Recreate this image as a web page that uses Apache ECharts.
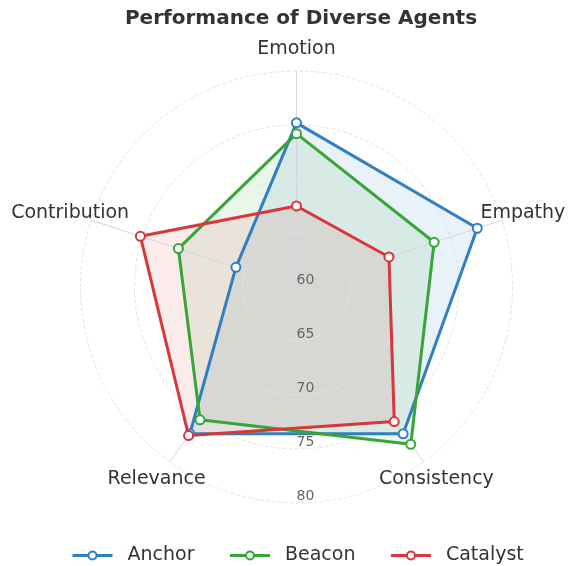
<!DOCTYPE html>
<html>
<head>
<meta charset="utf-8">
<script src="https://cdn.jsdelivr.net/npm/echarts@6/dist/echarts.min.js"></script>
<style>
  html, body { margin: 0; padding: 0; background: #fff; }
  #box { width: 575px; height: 566px; }
</style>
</head>
<body>
<div id="box"></div>
<script>
// 数据（顺时针，从顶部开始）
var categories = ['Emotion', 'Empathy', 'Consistency', 'Relevance', 'Contribution'];
var agents = ['Anchor', 'Beacon', 'Catalyst'];
var anchorValues = [75.2, 77.6, 76.8, 76.8, 65.9];
var beaconValues = [74.2, 73.4, 78.0, 75.2, 71.5];
var catalystValues = [67.5, 69.0, 75.4, 77.0, 75.2];
var tickLabels = [60, 65, 70, 75, 80];
var colors = ['#2f7fc1', '#37a537', '#d9363a'];

// ECharts 雷达图是逆时针排列，这里换成顺时针
var order = [0, 4, 3, 2, 1];
function reorder(arr) {
  return order.map(function (i) { return arr[i]; });
}

var myChart = echarts.init(document.getElementById('box'));
var font = 'DejaVu Sans';
var center = [296.5, 287];
var radius = 216;
var allValues = [anchorValues, beaconValues, catalystValues];

var series = [];
// 图例用的空折线（线 + 空心圆图标）
agents.forEach(function (name, i) {
  series.push({
    name: name, type: 'line', coordinateSystem: 'polar', data: [],
    symbol: 'emptyCircle', symbolSize: 8,
    itemStyle: { color: colors[i], borderWidth: 2 },
    lineStyle: { color: colors[i], width: 3 }
  });
});
// 填充区域（在网格线下面）
agents.forEach(function (name, i) {
  series.push({
    name: name, type: 'radar', z: 1, symbol: 'none', silent: true,
    data: [{
      name: name,
      value: reorder(allValues[i]),
      lineStyle: { width: 0 },
      areaStyle: { color: colors[i], opacity: 0.1 }
    }]
  });
});
// 折线和点（在网格线上面）
agents.forEach(function (name, i) {
  series.push({
    name: name, type: 'radar', z: 5, symbol: 'circle', symbolSize: 9,
    data: [{
      name: name,
      value: reorder(allValues[i]),
      itemStyle: { color: '#fff', borderColor: colors[i], borderWidth: 2 },
      lineStyle: { color: colors[i], width: 3 }
    }]
  });
});

var option = {
  title: {
    text: 'Performance of Diverse Agents',
    left: 296,
    textAlign: 'center',
    top: 4,
    textStyle: { fontFamily: font, fontSize: 20, fontWeight: 'bold', color: '#333' }
  },
  legend: {
    data: agents,
    top: 541,
    left: 66,
    itemWidth: 40,
    itemHeight: 10,
    itemGap: 34,
    lineStyle: { width: 3 },
    textStyle: { fontFamily: font, fontSize: 19, color: '#333', padding: [0, 0, 0, 10] }
  },
  radar: {
    center: center,
    radius: radius,
    z: 2,
    min: tickLabels[0],
    max: tickLabels[tickLabels.length - 1],
    splitNumber: tickLabels.length - 1,
    shape: 'circle',
    startAngle: 90,
    nameGap: 22,
    indicator: reorder(categories).map(function (c) {
      return { name: c, min: tickLabels[0], max: tickLabels[tickLabels.length - 1] };
    }),
    axisName: {
      color: '#333', fontFamily: font, fontSize: 19,
      align: 'center', verticalAlign: 'middle'
    },
    axisLine: { lineStyle: { color: '#d3d6e0', width: 1 } },
    splitLine: { lineStyle: { color: '#e2e2e2', type: 'dashed', width: 1 } },
    splitArea: { show: false }
  },
  polar: { center: center, radius: radius },
  angleAxis: { type: 'value', min: 0, max: 360, startAngle: 270, show: false },
  radiusAxis: {
    type: 'value',
    min: tickLabels[0],
    max: tickLabels[tickLabels.length - 1],
    interval: 5,
    z: 10,
    axisLine: { show: false },
    axisTick: { show: false },
    splitLine: { show: false },
    axisLabel: {
      margin: 0, color: '#666', fontFamily: font, fontSize: 14,
      align: 'left', verticalAlign: 'bottom'
    }
  },
  series: series
};

myChart.setOption(option);
</script>
</body>
</html>
